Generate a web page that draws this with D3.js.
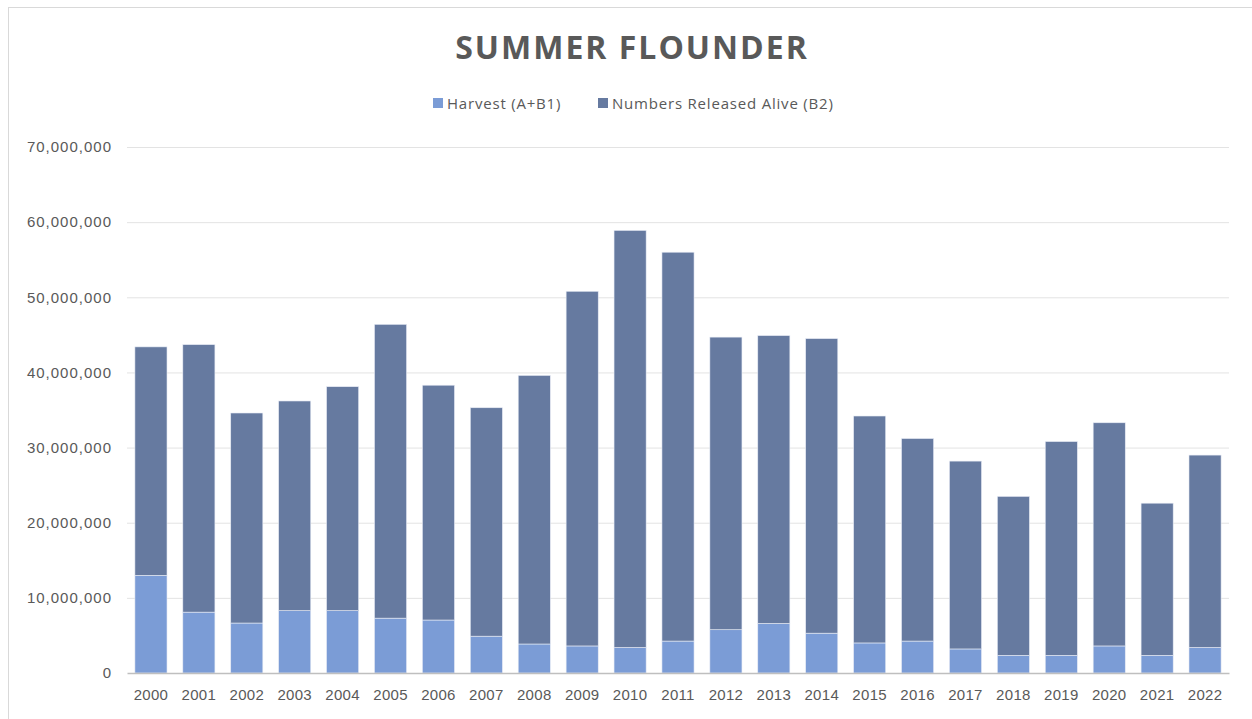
<!DOCTYPE html>
<html>
<head>
<meta charset="utf-8">
<script src="https://cdn.jsdelivr.net/npm/d3@7"></script>
<style>
  body { margin: 0; background: #fff; }
  svg { display: block; font-family: "Open Sans", sans-serif; }
  .grid line { stroke: #e3e3e3; }
  .tick text { fill: #595959; }
</style>
</head>
<body>
<svg width="1252" height="719"></svg>
<script>
// values (numbers of fish)
let years = ["2000","2001","2002","2003","2004","2005","2006","2007","2008","2009","2010",
             "2011","2012","2013","2014","2015","2016","2017","2018","2019","2020","2021","2022"];
let harvest = [13000000, 8100000, 6650000, 8300000, 8300000, 7300000, 7050000, 4900000, 3860000, 3600000, 3400000,
               4250000, 5760000, 6600000, 5300000, 4000000, 4250000, 3200000, 2350000, 2350000, 3600000, 2350000, 3400000];
let totals = [43400000, 43700000, 34600000, 36200000, 38100000, 46400000, 38300000, 35300000, 39600000, 50800000, 58900000,
              56000000, 44700000, 44900000, 44500000, 34200000, 31200000, 28200000, 23500000, 30800000, 33300000, 22600000, 29000000];
let released = totals.map((t, i) => t - harvest[i]);
let yTicks = [0, 10000000, 20000000, 30000000, 40000000, 50000000, 60000000, 70000000];
let seriesNames = ["Harvest (A+B1)", "Numbers Released Alive (B2)"];
let colors = ["#7b9cd6", "#667aa0"];

let svg = d3.select("svg"),
    margin = {top: 147, right: 23, bottom: 46, left: 127},
    width = +svg.attr("width") - margin.left - margin.right,
    height = +svg.attr("height") - margin.top - margin.bottom;

// chart frame (right and bottom edges fall outside the picture)
svg.append("rect")
    .attr("x", 8.5).attr("y", 7.5)
    .attr("width", 1260).attr("height", 720)
    .attr("fill", "none")
    .attr("stroke", "#d9d9d9");

let g = svg.append("g")
    .attr("transform", "translate(" + margin.left + "," + margin.top + ")");

let x = d3.scaleBand()
    .domain(years)
    .range([0, width])
    .paddingInner(0.33)
    .paddingOuter(0.165);

let y = d3.scaleLinear()
    .domain([0, 70000000])
    .range([height, 0]);

// gridlines
g.append("g")
    .attr("class", "grid")
    .call(d3.axisLeft(y).tickValues(yTicks.slice(1)).tickSize(-width).tickFormat(""))
    .call(g => g.select(".domain").remove());

// y axis labels
g.append("g")
    .attr("class", "axis axis--y")
    .call(d3.axisLeft(y).tickValues(yTicks).tickSize(0).tickPadding(15).tickFormat(d3.format(",")))
    .call(g => g.select(".domain").remove())
    .selectAll("text")
      .style("font-size", "15px")
      .style("letter-spacing", "1px");

let stacked = d3.stack().keys([0, 1])
    (years.map((yr, i) => ({year: yr, 0: harvest[i], 1: released[i]})));

g.selectAll(".series")
  .data(stacked)
  .enter().append("g")
    .attr("class", "series")
    .attr("fill", (d, i) => colors[i])
  .selectAll("rect")
  .data(d => d)
  .enter().append("rect")
    .attr("x", d => x(d.data.year))
    .attr("y", d => y(d[1]))
    .attr("width", x.bandwidth())
    .attr("height", d => y(d[0]) - y(d[1]))
    .attr("stroke", "#e8ecf5")
    .attr("stroke-width", 0.6);

// x axis
g.append("g")
    .attr("class", "axis axis--x")
    .attr("transform", "translate(0," + height + ")")
    .call(d3.axisBottom(x).tickSize(0).tickPadding(16))
    .call(g => g.select(".domain").attr("stroke", "#bfbfbf").attr("stroke-width", 1.5))
    .selectAll("text")
      .style("font-size", "15px")
      .style("letter-spacing", "0.3px");

// title
svg.append("text")
    .attr("x", 632)
    .attr("y", 59)
    .attr("text-anchor", "middle")
    .attr("fill", "#595959")
    .style("font-size", "32px")
    .style("font-weight", "bold")
    .style("letter-spacing", "2px")
    .text("SUMMER FLOUNDER");

// legend
let legendX = [433, 598];
let legend = svg.selectAll(".legend")
  .data(seriesNames)
  .enter().append("g")
    .attr("class", "legend")
    .attr("transform", (d, i) => "translate(" + legendX[i] + ",98)");

legend.append("rect")
    .attr("width", 10).attr("height", 10)
    .attr("fill", (d, i) => colors[i]);

legend.append("text")
    .attr("x", 14)
    .attr("y", 10.5)
    .attr("fill", "#595959")
    .style("font-size", "15px")
    .style("letter-spacing", "0.8px")
    .text(d => d);
</script>
</body>
</html>
